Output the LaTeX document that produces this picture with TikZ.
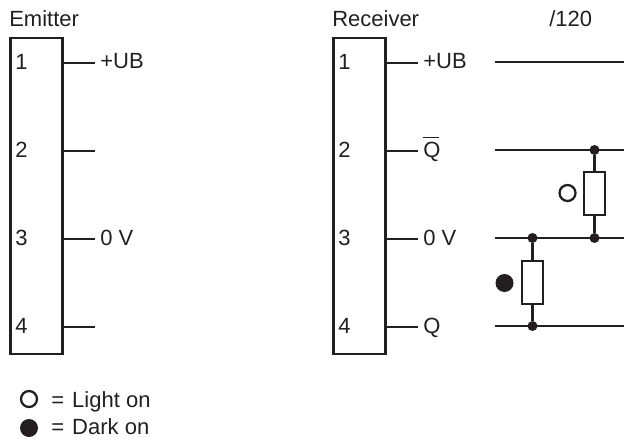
\documentclass[tikz,border=0pt]{standalone}
\usepackage{fontspec}
\setmainfont{Liberation Sans}
\definecolor{ink}{HTML}{231F20}
\tikzset{
  px/.style={x=0.75pt,y=-0.75pt},
  wire/.style={draw=ink,line width=1.9pt},
  blockbox/.style={draw=ink,line width=2.2pt,fill=white,inner sep=0pt,minimum width=39pt,minimum height=237pt},
  res/.style={draw=ink,line width=1.9pt,fill=white,inner sep=0pt,minimum width=15.5pt,minimum height=32pt},
  txt/.style={text=ink,font=\fontsize{16.5}{19}\selectfont,inner sep=0pt},
  ltxt/.style={txt,anchor=base west},
  junction/.style={circle,fill=ink,inner sep=0pt,minimum size=7.5pt},
  openmark/.style={circle,draw=ink,line width=1.7pt,fill=white,inner sep=0pt,minimum size=12pt},
  fullmark/.style={circle,fill=ink,inner sep=0pt,minimum size=13.5pt}
}
\begin{document}
\begin{tikzpicture}[px]
\useasboundingbox (0,0) rectangle (624,439);
% Blocks
\node[blockbox] (E) at (36.5,196) {};
\node[blockbox] (R) at (359.5,196) {};
\node[ltxt] (et) at (9,26.5) {Emitter};
\node[ltxt] (rt) at (332,26.5) {Receiver};
\node[ltxt] (v) at (549,26.5) {/120};
% Pin numbers
\foreach \n/\y in {1/69,2/157,3/245,4/333}{
  \node[ltxt] (e\n) at (15,\y) {\n};
  \node[ltxt] (r\n) at (338,\y) {\n};
}
% Emitter stubs
\foreach \n/\y in {1/63,2/151,3/239,4/327}{
  \coordinate (es\n) at (95,\y);
  \coordinate (ea\n) at (E.east |- es\n);
  \draw[wire] (ea\n) -- (es\n);
  \coordinate (rs\n) at (418,\y);
  \coordinate (ra\n) at (R.east |- rs\n);
  \draw[wire] (ra\n) -- (rs\n);
}
\node[ltxt] (eu) at (100,68.5) {+UB};
\node[ltxt] (e0) at (100,245) {0 V};
\node[ltxt] (ru) at (423,68.5) {+UB};
\node[ltxt] (rq) at (423,157) {\rlap{\rule[14pt]{11.5pt}{1.1pt}}Q};
\node[ltxt] (r0) at (423,245) {0 V};
\node[ltxt] (rq2) at (423,333) {Q};
% Right-hand lines
\coordinate (a1) at (495,62);   \coordinate (b1) at (624,62);
\coordinate (a2) at (495,150);  \coordinate (b2) at (624,150);
\coordinate (a3) at (495,238);  \coordinate (b3) at (624,238);
\coordinate (a4) at (495,326);  \coordinate (b4) at (624,326);
\foreach \i in {1,2,3,4}{\draw[wire] (a\i) -- (b\i);}
% Load resistors
\node[junction] (j1) at (594.5,150) {};
\node[junction] (j2) at (594.5,238) {};
\node[junction] (j3) at (532.5,238) {};
\node[junction] (j4) at (532.5,326) {};
\draw[wire] (j1) -- (j2);
\draw[wire] (j3) -- (j4);
\node[res] (r1) at (594.5,193.5) {};
\node[res] (r2) at (532.5,282.5) {};
\node[openmark] (mo) at (567.5,193) {};
\node[fullmark] (mf) at (504.5,283) {};
% Legend
\node[openmark] (lo) at (29,399) {};
\node[fullmark] (lf) at (29,428) {};
\node[ltxt] (l1) at (51,407) {=\hspace{1.5pt} Light on};
\node[ltxt] (l2) at (51,434) {=\hspace{1.5pt} Dark on};
\end{tikzpicture}
\end{document}
